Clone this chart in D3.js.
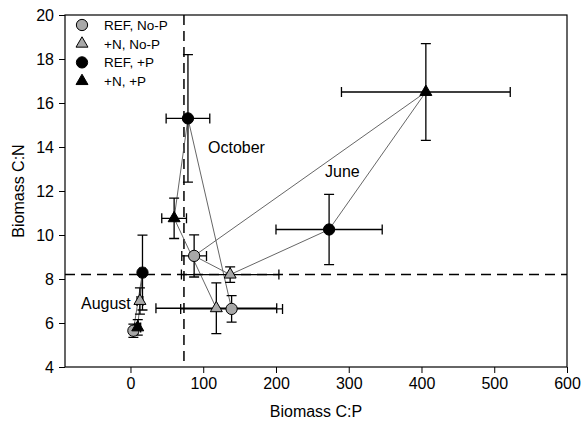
<!DOCTYPE html>
<html><head><meta charset="utf-8">
<script src="https://cdn.jsdelivr.net/npm/d3@7"></script>
<style>body{margin:0;background:#fff}svg{display:block}text{font-family:Arial,"Liberation Sans",sans-serif;fill:#000}</style>
</head><body><svg id="c" width="581" height="426"></svg>
<script>
// Months in array order
const months = ["June", "October", "August"];
const treatments = ["REF, No-P", "+N, No-P", "REF, +P", "+N, +P"];
// Biomass C:P (x) per treatment, [June, October, August]
const cpRefNoP = [87.5, 139, 4];
const cpNNoP   = [137, 118, 13];
const cpRefP   = [273, 79, 16.5];
const cpNP     = [406, 60, 10];
// Biomass C:N (y)
const cnRefNoP = [9.05, 6.64, 5.65];
const cnNNoP   = [8.2, 6.67, 7.0];
const cnRefP   = [10.25, 15.3, 8.29];
const cnNP     = [16.5, 10.76, 5.8];
// errors (x)
const cpErrRefNoP = [17, 70, 4];
const cpErrNNoP   = [67, 83, 4];
const cpErrRefP   = [73, 30, 4];
const cpErrNP     = [116, 17, 4];
// errors (y)
const cnErrRefNoP = [0.96, 0.6, 0.3];
const cnErrNNoP   = [0.35, 1.15, 0.6];
const cnErrRefP   = [1.6, 2.9, 1.7];
const cnErrNP     = [2.2, 0.92, 0.35];
const xTicks = [0, 100, 200, 300, 400, 500, 600];
const yTicks = [4, 6, 8, 10, 12, 14, 16, 18, 20];
const refCP = 73.5, refCN = 8.2;

const svg = d3.select("#c");
const L = 65, R = 567, T = 15, B = 367;
const x = d3.scaleLinear().domain([-90, 600]).range([L, R]);
const y = d3.scaleLinear().domain([4, 20]).range([B, T]);

const series = [
  {name: treatments[0], cp: cpRefNoP, cn: cnRefNoP, ex: cpErrRefNoP, ey: cnErrRefNoP, sym: d3.symbolCircle, fill: "#a8a8a8"},
  {name: treatments[1], cp: cpNNoP, cn: cnNNoP, ex: cpErrNNoP, ey: cnErrNNoP, sym: d3.symbolTriangle, fill: "#a8a8a8"},
  {name: treatments[2], cp: cpRefP, cn: cnRefP, ex: cpErrRefP, ey: cnErrRefP, sym: d3.symbolCircle, fill: "#000"},
  {name: treatments[3], cp: cpNP, cn: cnNP, ex: cpErrNP, ey: cnErrNP, sym: d3.symbolTriangle, fill: "#000"}
];
const symSize = s => s === d3.symbolCircle ? 100 : 62;

// axes
const fs = 16;
const gx = svg.append("g").attr("transform", `translate(0,${B})`)
  .call(d3.axisBottom(x).tickValues(xTicks).tickSize(6).tickSizeOuter(0).tickPadding(5));
const gy = svg.append("g").attr("transform", `translate(${L},0)`)
  .call(d3.axisLeft(y).tickValues(yTicks).tickSize(6).tickSizeOuter(0).tickPadding(5));
[gx, gy].forEach(g => {
  g.select(".domain").remove();
  g.selectAll("line").attr("stroke", "#000").attr("stroke-width", 1);
  g.selectAll("text").style("font-size", fs + "px").attr("fill", "#000");
});
svg.append("rect").attr("x", L).attr("y", T).attr("width", R - L).attr("height", B - T)
  .attr("fill", "none").attr("stroke", "#000").attr("stroke-width", 1.2);

svg.append("text").attr("x", (L + R) / 2).attr("y", 417).attr("text-anchor", "middle")
  .style("font-size", fs + "px").text("Biomass C:P");
svg.append("text").attr("transform", `translate(24,${(T + B) / 2}) rotate(-90)`).attr("text-anchor", "middle")
  .style("font-size", fs + "px").text("Biomass C:N");

// reference dashed lines
svg.append("line").attr("x1", x(refCP)).attr("x2", x(refCP)).attr("y1", T).attr("y2", B)
  .attr("stroke", "#000").attr("stroke-width", 1.5).attr("stroke-dasharray", "10,6");
svg.append("line").attr("x1", L).attr("x2", R).attr("y1", y(refCN)).attr("y2", y(refCN))
  .attr("stroke", "#000").attr("stroke-width", 1.5).attr("stroke-dasharray", "10,6");

// hull polygons per month
months.forEach((m, i) => {
  const pts = series.map(s => [x(s.cp[i]), y(s.cn[i])]);
  const hull = d3.polygonHull(pts);
  svg.append("path").attr("d", "M" + hull.join("L") + "Z")
    .attr("fill", "none").attr("stroke", "#555").attr("stroke-width", 0.9);
});

// error bars
const cap = 5;
series.forEach(s => {
  months.forEach((m, i) => {
    const g = svg.append("g").attr("stroke", "#000").attr("stroke-width", 1.3).attr("fill", "none");
    const cx = x(s.cp[i]), cy = y(s.cn[i]);
    const x0 = x(s.cp[i] - s.ex[i]), x1 = x(s.cp[i] + s.ex[i]);
    const y0 = y(s.cn[i] - s.ey[i]), y1 = y(s.cn[i] + s.ey[i]);
    g.append("path").attr("d",
      `M${x0},${cy}H${x1}M${x0},${cy - cap}V${cy + cap}M${x1},${cy - cap}V${cy + cap}` +
      `M${cx},${y0}V${y1}M${cx - cap},${y0}H${cx + cap}M${cx - cap},${y1}H${cx + cap}`);
  });
});

// markers
series.forEach(s => {
  svg.append("g").selectAll("path").data(months.map((m, i) => i)).join("path")
    .attr("transform", i => `translate(${x(s.cp[i])},${y(s.cn[i])})`)
    .attr("d", d3.symbol().type(s.sym).size(symSize(s.sym)))
    .attr("fill", s.fill).attr("stroke", "#000").attr("stroke-width", 1);
});

// month labels
const monthLabelPos = {June: [325, 177], October: [208, 153], August: [81, 309]};
months.forEach(m => {
  svg.append("text").attr("x", monthLabelPos[m][0]).attr("y", monthLabelPos[m][1])
    .style("font-size", fs + "px").text(m);
});

// legend
const lg = svg.append("g");
series.forEach((s, i) => {
  const ly = 25 + i * 18.7;
  lg.append("path").attr("transform", `translate(82,${ly})`)
    .attr("d", d3.symbol().type(s.sym).size(symSize(s.sym)))
    .attr("fill", s.fill).attr("stroke", "#000").attr("stroke-width", 1);
  lg.append("text").attr("x", 104).attr("y", ly + 5).style("font-size", "13.5px").text(s.name);
});
</script></body></html>
